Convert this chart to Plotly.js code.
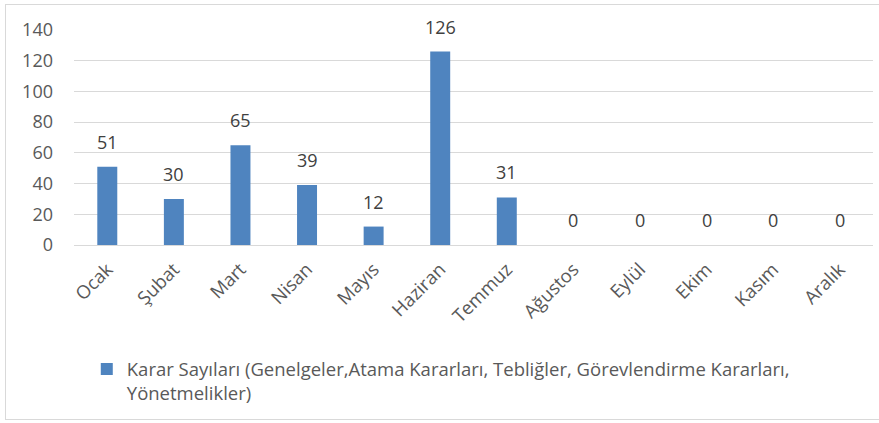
<!DOCTYPE html>
<html>
<head>
<meta charset="utf-8">
<script src="https://cdn.plot.ly/plotly-3.0.1.min.js"></script>
<style>
  html, body { margin: 0; padding: 0; background: #fff; overflow: hidden; }
  #frame { position: absolute; left: 5px; top: 4px; width: 900px; height: 416px; border: 1px solid #d9d9d9; box-sizing: border-box; }
  #chart { position: absolute; left: 0; top: 0; width: 879px; height: 423px; }
</style>
</head>
<body>
<div id="frame"></div>
<div id="chart"></div>
<script>
const months = ["Ocak", "Şubat", "Mart", "Nisan", "Mayıs", "Haziran", "Temmuz", "Ağustos", "Eylül", "Ekim", "Kasım", "Aralık"];
const values = [51, 30, 65, 39, 12, 126, 31, 0, 0, 0, 0, 0];
const seriesName = "Karar Sayıları (Genelgeler,Atama Kararları, Tebliğler, Görevlendirme Kararları,<br>Yönetmelikler)";
const yTicks = [0, 20, 40, 60, 80, 100, 120, 140];

const FONT = "Open Sans, Noto Sans, sans-serif";
const barColor = "#4F84BF";

const trace = {
  type: "bar",
  x: months,
  y: values,
  name: seriesName,
  marker: { color: barColor },
  width: 0.3,
  showlegend: true,
  hoverinfo: "x+y"
};

const annotations = months.map((m, i) => ({
  x: m,
  y: values[i],
  text: String(values[i]),
  showarrow: false,
  yanchor: "bottom",
  yshift: 11,
  font: { family: FONT, size: 18, color: "#404040" }
}));

const layout = {
  width: 879,
  height: 423,
  margin: { l: 74, r: 6, t: 30, b: 178 },
  paper_bgcolor: "rgba(0,0,0,0)",
  plot_bgcolor: "rgba(0,0,0,0)",
  font: { family: FONT, color: "#595959" },
  xaxis: {
    type: "category",
    tickangle: -45,
    tickfont: { family: FONT, size: 18.5, color: "#595959" },
    showgrid: false,
    showline: false,
    zeroline: false,
    ticks: "",
    ticklabelstandoff: 9
  },
  yaxis: {
    range: [0, 140],
    tickvals: yTicks,
    ticktext: yTicks.map(String),
    tickfont: { family: FONT, size: 18, color: "#595959" },
    showgrid: true,
    gridcolor: "#d9d9d9",
    gridwidth: 1,
    zeroline: true,
    zerolinecolor: "#d9d9d9",
    zerolinewidth: 1,
    showline: false,
    ticks: "",
    ticklabelstandoff: 20
  },
  showlegend: true,
  legend: {
    orientation: "h",
    x: 0.016,
    xanchor: "left",
    y: -0.49,
    yanchor: "top",
    valign: "top",
    font: { family: FONT, size: 18.5, color: "#595959" },
    itemwidth: 30,
    bgcolor: "rgba(0,0,0,0)"
  },
  annotations: annotations,
  bargap: 0.7
};

Plotly.newPlot("chart", [trace], layout, { displayModeBar: false, staticPlot: true });
</script>
</body>
</html>
